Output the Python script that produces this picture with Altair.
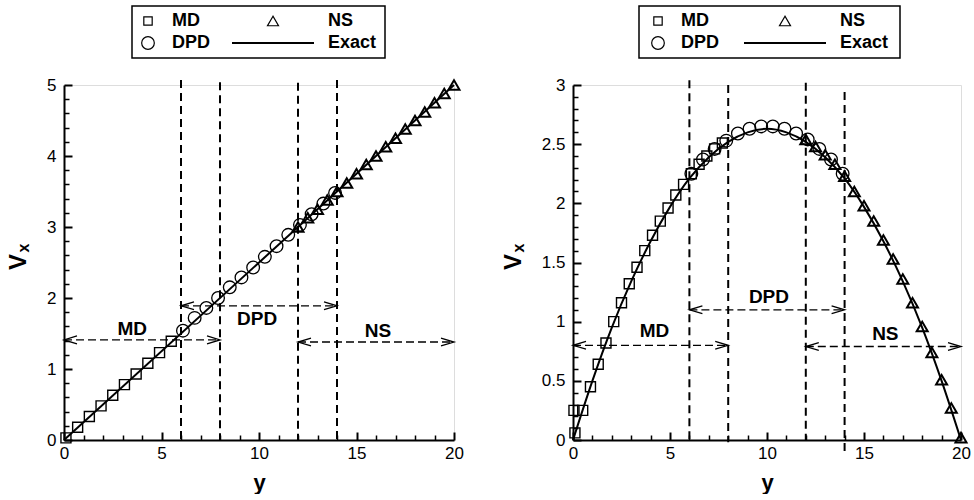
import altair as alt
import pandas as pd

FONT = "Liberation Sans"

# ---------------- data : left panel (Couette) ----------------
L_md_x = [0.1, 0.7, 1.3, 1.9, 2.5, 3.1, 3.7, 4.3, 4.9, 5.5]
L_md_v = [0.03, 0.18, 0.33, 0.48, 0.63, 0.78, 0.93, 1.08, 1.23, 1.39]
L_dpd_x = [6.1, 6.7, 7.3, 7.9, 8.5, 9.1, 9.7, 10.3, 10.9, 11.5, 12.1, 12.7, 13.3, 13.9]
L_dpd_v = [1.54, 1.72, 1.86, 2.0, 2.15, 2.29, 2.43, 2.58, 2.73, 2.89, 3.03, 3.18, 3.33, 3.48]
L_ns_x = [12.0, 12.5, 13.0, 13.5, 14.0, 14.5, 15.0, 15.5, 16.0, 16.5, 17.0, 17.5, 18.0, 18.5, 19.0, 19.5, 20.0]
L_ns_v = [3.0, 3.13, 3.25, 3.38, 3.5, 3.62, 3.75, 3.88, 4.0, 4.13, 4.25, 4.38, 4.5, 4.62, 4.75, 4.88, 5.0]
L_exact_x = [0, 20]
L_exact_v = [0, 5]

# ---------------- data : right panel (Poiseuille) ----------------
R_md_x = [0.05, 0.1, 0.5, 0.9, 1.3, 1.7, 2.1, 2.5, 2.9, 3.3, 3.7, 4.1, 4.5, 4.9, 5.3, 5.7, 6.1, 6.5, 6.9, 7.3, 7.7]
R_md_v = [0.25, 0.06, 0.25, 0.45, 0.64, 0.82, 1.0, 1.16, 1.32, 1.46, 1.6, 1.73, 1.85, 1.96, 2.07, 2.16, 2.25, 2.33, 2.40, 2.46, 2.51]
R_dpd_x = [6.1, 6.7, 7.3, 7.9, 8.5, 9.1, 9.7, 10.3, 10.9, 11.5, 12.1, 12.7, 13.3, 13.9]
R_dpd_v = [2.25, 2.37, 2.46, 2.53, 2.59, 2.63, 2.65, 2.65, 2.63, 2.59, 2.54, 2.46, 2.37, 2.25]
R_ns_x = [12.0, 12.5, 13.0, 13.5, 14.0, 14.5, 15.0, 15.5, 16.0, 16.5, 17.0, 17.5, 18.0, 18.5, 19.0, 19.5, 20.0]
R_ns_v = [2.54, 2.48, 2.41, 2.33, 2.23, 2.10, 1.98, 1.85, 1.69, 1.53, 1.36, 1.16, 0.96, 0.74, 0.51, 0.27, 0.02]
R_exact_x = [0, 1, 2, 3, 4, 5, 6, 7, 8, 9, 10, 11, 12, 13, 14, 15, 16, 17, 18, 19, 20]
R_exact_v = [0, 0.50, 0.95, 1.34, 1.68, 1.97, 2.21, 2.39, 2.52, 2.60, 2.63, 2.60, 2.52, 2.39, 2.21, 1.97, 1.68, 1.34, 0.95, 0.50, 0]

# region boundaries (vertical dashed lines)
bound_x = [6, 8, 12, 14]
L_bound_top = [5.07, 5.04, 5.03, 5.07]
L_bound_bot = [0, 0, 0, 0]
R_bound_top = [3.04, 3.0, 3.02, 2.94]
R_bound_bot = [0, -0.02, 0, -0.1]

# region arrows
region_names = ["MD", "DPD", "NS"]
region_from = [0, 6, 12]
region_to = [8, 14, 20]
L_arrow_v = [1.41, 1.89, 1.38]
L_label_x = [3.5, 9.9, 16.1]
L_label_v = [1.57, 1.71, 1.54]
R_arrow_v = [0.80, 1.10, 0.79]
R_label_x = [4.2, 10.1, 16.1]
R_label_v = [0.92, 1.21, 0.90]

# ticks
x_major = [0, 5, 10, 15, 20]
x_minor = [1, 2, 3, 4, 6, 7, 8, 9, 11, 12, 13, 14, 16, 17, 18, 19]
L_y_major = [0, 1, 2, 3, 4, 5]
L_y_minor = [0.2, 0.4, 0.6, 0.8, 1.2, 1.4, 1.6, 1.8, 2.2, 2.4, 2.6, 2.8, 3.2, 3.4, 3.6, 3.8, 4.2, 4.4, 4.6, 4.8]
R_y_major = [0, 0.5, 1, 1.5, 2, 2.5, 3]
R_y_minor = [0.1, 0.2, 0.3, 0.4, 0.6, 0.7, 0.8, 0.9, 1.1, 1.2, 1.3, 1.4, 1.6, 1.7, 1.8, 1.9,
             2.1, 2.2, 2.3, 2.4, 2.6, 2.7, 2.8, 2.9]

legend_labels = ["MD", "DPD", "NS", "Exact"]

H = 355
LEFT_SHAPE = "M2,-0.6L0,0L2,0.6"
RIGHT_SHAPE = "M-2,-0.6L0,0L-2,0.6"


def one():
    return pd.DataFrame({"a": [0]})


def build(p):
    W = p["w"]
    xs = alt.Scale(domain=[0, 20], nice=False, zero=False)
    ys = alt.Scale(domain=[0, p["ymax"]], nice=False, zero=False)
    xax = alt.Axis(values=x_major, ticks=False, grid=False, domainColor="black", domainWidth=2,
                   labelFont=FONT, labelFontSize=17, labelColor="black", labelPadding=5,
                   labelFlush=False, format="~g", title="y", titleFont=FONT, titleFontSize=22,
                   titleFontWeight="bold", titleColor="black", titlePadding=11)
    yax = alt.Axis(values=p["y_major"], ticks=False, grid=False, domainColor="black", domainWidth=2,
                   labelFont=FONT, labelFontSize=17, labelColor="black", labelPadding=8,
                   labelFlush=False, format="~g", title=None)

    def X(f):
        return alt.X(f + ":Q", scale=xs, axis=xax)

    def Y(f):
        return alt.Y(f + ":Q", scale=ys, axis=yax)

    layers = []

    # vertical dashed boundaries
    vdf = pd.DataFrame({"x": bound_x, "top": p["btop"], "bot": p["bbot"]})
    layers.append(alt.Chart(vdf).mark_rule(color="black", strokeWidth=2, strokeDash=[8, 5])
                  .encode(x=X("x"), y=Y("top"), y2="bot"))

    # region arrows
    adf = pd.DataFrame({"x0": region_from, "x1": region_to, "v": p["arrow_v"]})
    layers.append(alt.Chart(adf).mark_rule(color="black", strokeWidth=1.3, strokeDash=[8, 4])
                  .encode(x=X("x0"), x2="x1", y=Y("v")))
    layers.append(alt.Chart(adf).mark_point(shape=LEFT_SHAPE, size=169, filled=False, color="black",
                                            strokeWidth=1.3, opacity=1)
                  .encode(x=X("x0"), y=Y("v")))
    layers.append(alt.Chart(adf).mark_point(shape=RIGHT_SHAPE, size=169, filled=False, color="black",
                                            strokeWidth=1.3, opacity=1)
                  .encode(x=X("x1"), y=Y("v")))
    ldf = pd.DataFrame({"x": p["label_x"], "v": p["label_v"], "t": region_names})
    layers.append(alt.Chart(ldf).mark_text(font=FONT, fontSize=19, fontWeight="bold", color="black")
                  .encode(x=X("x"), y=Y("v"), text="t:N"))

    # exact line
    edf = pd.DataFrame({"x": p["ex_x"], "v": p["ex_v"]})
    layers.append(alt.Chart(edf).mark_line(color="black", strokeWidth=2, interpolate="monotone")
                  .encode(x=X("x"), y=Y("v")))

    # symbols
    layers.append(alt.Chart(pd.DataFrame({"x": p["md_x"], "v": p["md_v"]}))
                  .mark_point(shape="square", size=100, filled=False, color="black", strokeWidth=1.4, opacity=1)
                  .encode(x=X("x"), y=Y("v")))
    layers.append(alt.Chart(pd.DataFrame({"x": p["dpd_x"], "v": p["dpd_v"]}))
                  .mark_point(shape="circle", size=160, filled=False, color="black", strokeWidth=1.3, opacity=1)
                  .encode(x=X("x"), y=Y("v")))
    layers.append(alt.Chart(pd.DataFrame({"x": p["ns_x"], "v": p["ns_v"]}))
                  .mark_point(shape="triangle-up", size=121, filled=False, color="black", strokeWidth=2, opacity=1)
                  .encode(x=X("x"), y=Y("v")))

    # axis title V_x (rotated, with subscript)
    vx, vy = p["vpos"]
    layers.append(alt.Chart(one()).mark_text(text="V", angle=270, font=FONT, fontSize=24, fontWeight="bold",
                                             color="black", align="center", baseline="middle")
                  .encode(x=alt.value(vx), y=alt.value(vy)))
    layers.append(alt.Chart(one()).mark_text(text="x", angle=270, font=FONT, fontSize=16, fontWeight="bold",
                                             color="black", align="center", baseline="middle")
                  .encode(x=alt.value(vx + 5), y=alt.value(vy - 14)))

    # legend box
    g = p["leg"]
    b0 = g["box"]
    r1, r2 = -64, -42
    layers.append(alt.Chart(one()).mark_rect(filled=False, stroke="black", strokeWidth=1.5)
                  .encode(x=alt.value(b0), x2=alt.value(b0 + g["w"]), y=alt.value(-79), y2=alt.value(-27)))
    layers.append(alt.Chart(one()).mark_point(shape="square", size=70, filled=False, color="black",
                                              strokeWidth=1.2, opacity=1)
                  .encode(x=alt.value(b0 + g["s1"]), y=alt.value(r1)))
    layers.append(alt.Chart(one()).mark_point(shape="circle", size=160, filled=False, color="black",
                                              strokeWidth=1.2, opacity=1)
                  .encode(x=alt.value(b0 + g["s1"]), y=alt.value(r2)))
    layers.append(alt.Chart(one()).mark_point(shape="triangle-up", size=121, filled=False, color="black",
                                              strokeWidth=1.2, opacity=1)
                  .encode(x=alt.value(b0 + g["s2"]), y=alt.value(r1)))
    layers.append(alt.Chart(one()).mark_rule(color="black", strokeWidth=2)
                  .encode(x=alt.value(b0 + g["s2"] - 41), x2=alt.value(b0 + g["s2"] + 41), y=alt.value(r2)))
    for txt, tx, ty in [(legend_labels[0], g["t1"], r1), (legend_labels[1], g["t1"], r2),
                        (legend_labels[2], g["t2"], r1), (legend_labels[3], g["t2"], r2)]:
        layers.append(alt.Chart(one()).mark_text(text=txt, font=FONT, fontSize=18, fontWeight="bold",
                                                 color="black", align="left", baseline="middle")
                      .encode(x=alt.value(b0 + tx), y=alt.value(ty)))

    main = alt.layer(*layers)

    # inward ticks: extra axes on the opposite sides, pulled onto the axis lines,
    # so that their (outward) ticks point into the plot
    tick_layers = []
    for vx_list, vy_list, size, tw in [(x_major, p["y_major"], 8, 2), (x_minor, p["y_minor"], 5, 1.5)]:
        ax_top = alt.Axis(orient="top", offset=-H, values=vx_list, labels=False, domain=False, grid=False,
                          ticks=True, tickSize=size, tickWidth=tw, tickColor="black", title=None)
        ax_right = alt.Axis(orient="right", offset=-W, values=vy_list, labels=False, domain=False, grid=False,
                            ticks=True, tickSize=size, tickWidth=tw, tickColor="black", title=None)
        tick_layers.append(alt.Chart(pd.DataFrame({"x": [0], "v": [0]}))
                           .mark_point(opacity=0)
                           .encode(x=alt.X("x:Q", scale=xs, axis=ax_top),
                                   y=alt.Y("v:Q", scale=ys, axis=ax_right)))

    return (alt.layer(main, *tick_layers)
            .resolve_axis(x="independent", y="independent")
            .properties(width=W, height=H))


left = build(dict(ymax=5, y_major=L_y_major, y_minor=L_y_minor, btop=L_bound_top, bbot=L_bound_bot,
                  arrow_v=L_arrow_v, label_x=L_label_x, label_v=L_label_v, ex_x=L_exact_x, ex_v=L_exact_v,
                  md_x=L_md_x, md_v=L_md_v, dpd_x=L_dpd_x, dpd_v=L_dpd_v, ns_x=L_ns_x, ns_v=L_ns_v,
                  vpos=(-45, 177), w=390,
                  leg=dict(box=68, w=253, s1=16, t1=40, s2=141, t2=196)))
right = build(dict(ymax=3, y_major=R_y_major, y_minor=R_y_minor, btop=R_bound_top, bbot=R_bound_bot,
                   arrow_v=R_arrow_v, label_x=R_label_x, label_v=R_label_v, ex_x=R_exact_x, ex_v=R_exact_v,
                   md_x=R_md_x, md_v=R_md_v, dpd_x=R_dpd_x, dpd_v=R_dpd_v, ns_x=R_ns_x, ns_v=R_ns_v,
                   vpos=(-59, 177), w=388,
                   leg=dict(box=66, w=261, s1=19, t1=42, s2=146, t2=201)))

chart = alt.hconcat(left, right, spacing=37).properties(
    padding={"left": 6, "top": 4, "right": 0, "bottom": 0}
).configure_view(strokeWidth=0).configure(background="white")

chart.save("out.html", embed_options={"renderer": "svg", "actions": False})
